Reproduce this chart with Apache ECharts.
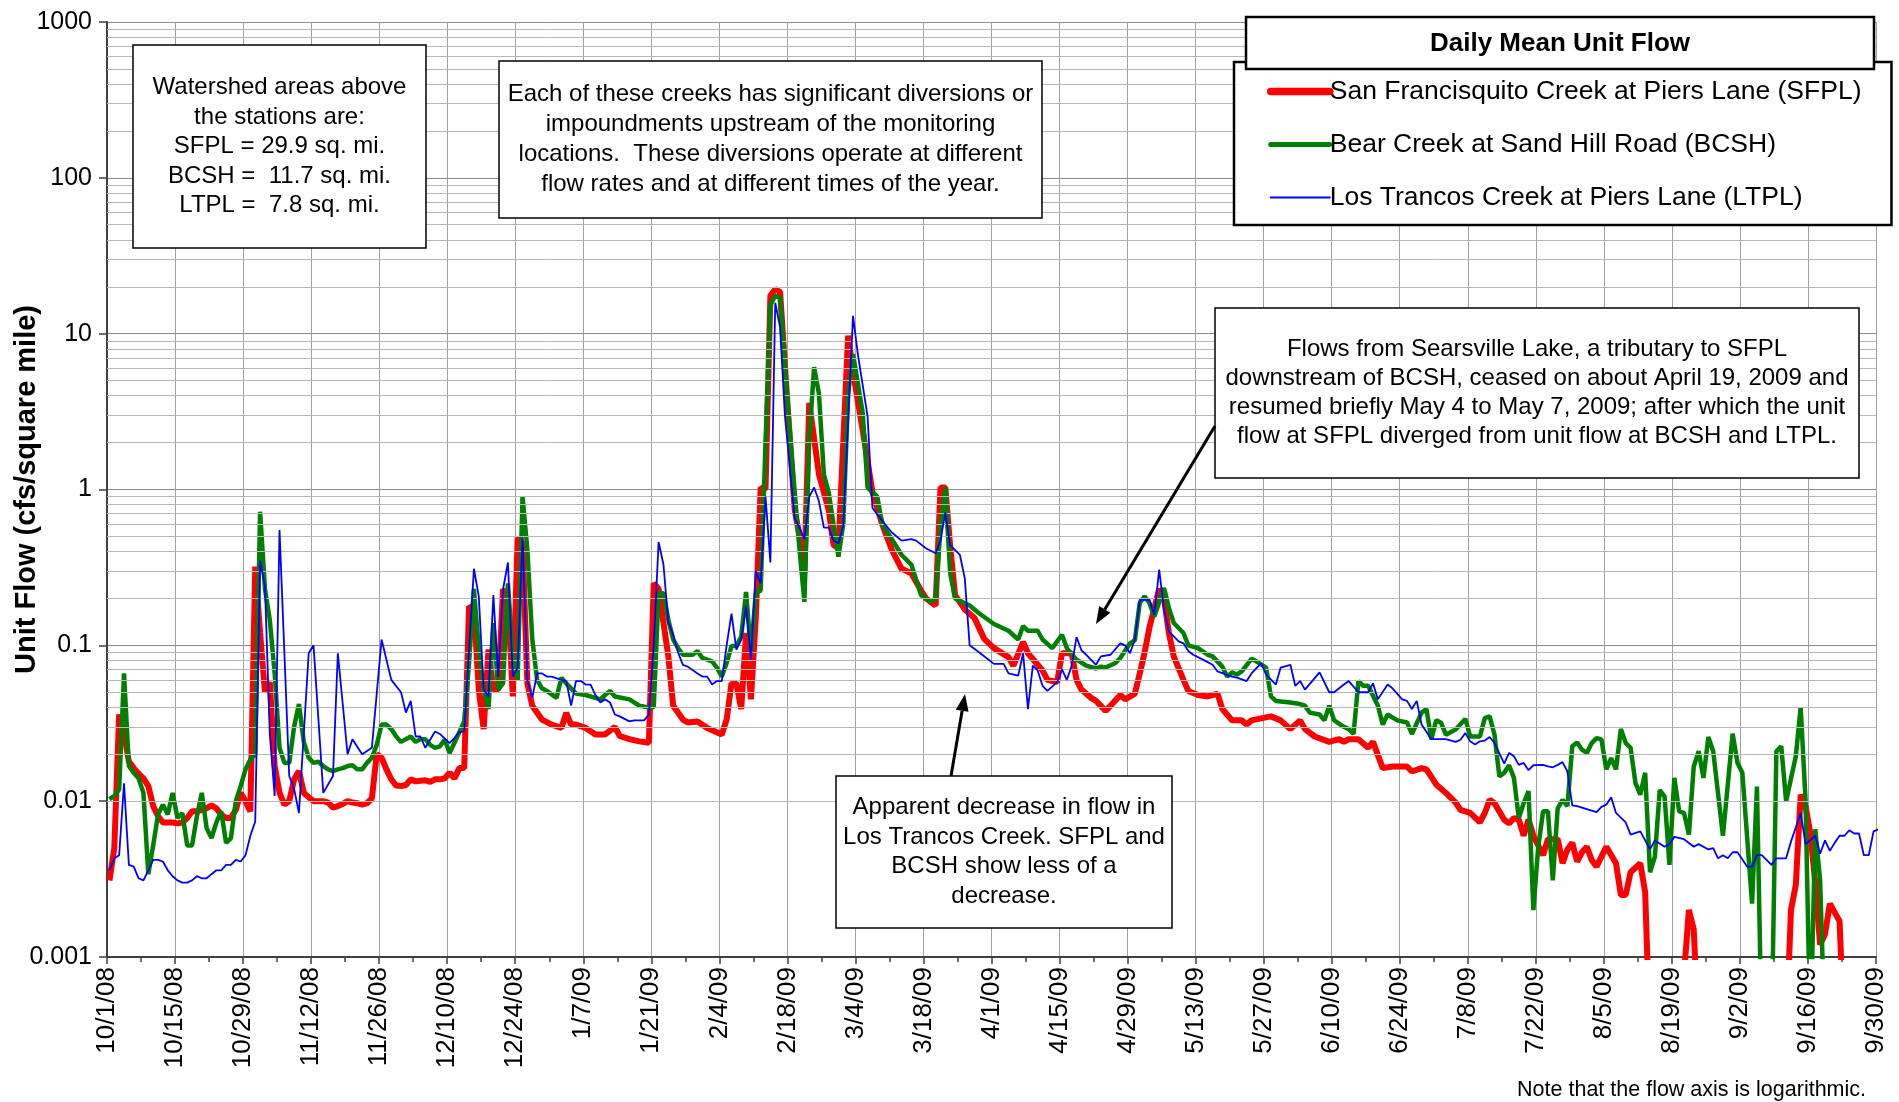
<!DOCTYPE html>
<html>
<head>
<meta charset="utf-8">
<script src="https://cdn.jsdelivr.net/npm/echarts@6/dist/echarts.min.js"></script>
<style>
  html, body { margin: 0; padding: 0; background: #fff; }
  #chart { width: 1899px; height: 1102px; }
</style>
</head>
<body>
<div id="chart"></div>
<script>
// days counted from 10/1/08, daily mean unit flow (cfs / sq. mi.); 0 = below the axis
var sfpl = [[0,0.0031],[1,0.005],[2,0.036],[3,0.0275],[4,0.018],[5,0.0163],[6,0.015],[7,0.014],[8,0.0125],[9,0.0093],[10,0.008],[11,0.0073],[12,0.0073],[13,0.0073],[14,0.0072],[15,0.0073],[16,0.0078],[17,0.0086],[18,0.0086],[19,0.0088],[20,0.009],[21,0.0094],[22,0.009],[23,0.0082],[24,0.0078],[25,0.0078],[26,0.0088],[27,0.0113],[28,0.01],[29,0.0086],[30,0.32],[31,0.12],[32,0.05],[33,0.058],[34,0.0168],[35,0.0113],[36,0.0095],[37,0.01],[38,0.0138],[39,0.0156],[40,0.0113],[41,0.0106],[42,0.01],[43,0.01],[44,0.01],[45,0.0098],[46,0.0091],[47,0.0093],[48,0.0096],[49,0.01],[50,0.0098],[51,0.0097],[52,0.0095],[53,0.0097],[54,0.0104],[55,0.02],[56,0.019],[57,0.016],[58,0.0138],[59,0.0126],[60,0.0125],[61,0.0127],[62,0.0138],[63,0.0134],[64,0.0135],[65,0.0136],[66,0.0133],[67,0.0138],[68,0.0138],[69,0.014],[70,0.0152],[71,0.014],[72,0.0163],[73,0.0163],[74,0.178],[75,0.17],[76,0.052],[77,0.029],[78,0.094],[79,0.052],[80,0.052],[81,0.23],[82,0.19],[83,0.047],[84,0.49],[85,0.45],[86,0.057],[87,0.041],[89,0.0334],[91,0.031],[93,0.0295],[94,0.0368],[95,0.031],[96,0.031],[98,0.0295],[100,0.0268],[102,0.0268],[104,0.03],[105,0.0262],[107,0.025],[109,0.0242],[111,0.0237],[112,0.25],[113,0.23],[115,0.085],[116,0.041],[118,0.0334],[119,0.032],[121,0.0325],[123,0.0295],[126,0.0268],[127,0.0334],[128,0.057],[129,0.057],[130,0.039],[131,0.12],[132,0.045],[133,0.15],[134,1.03],[135,1.0],[136,17.5],[137,19.3],[138,18.5],[140,2.1],[141,0.74],[142,0.5],[143,0.29],[144,3.6],[146,1.25],[148,0.74],[149,0.44],[150,0.42],[152,9.7],[153,5.7],[155,2.4],[157,0.96],[159,0.6],[161,0.41],[163,0.31],[165,0.29],[167,0.225],[168,0.2],[170,0.18],[171,1.03],[172,1.03],[173,0.43],[174,0.21],[176,0.17],[178,0.15],[180,0.11],[182,0.096],[185,0.084],[186,0.074],[188,0.105],[189,0.089],[192,0.069],[193,0.06],[195,0.058],[196,0.089],[198,0.089],[199,0.06],[200,0.052],[202,0.046],[203,0.044],[205,0.038],[206,0.041],[208,0.048],[209,0.045],[211,0.049],[212,0.066],[213,0.09],[214,0.13],[216,0.23],[217,0.2],[218,0.12],[219,0.085],[221,0.06],[222,0.051],[224,0.048],[226,0.047],[228,0.049],[229,0.039],[231,0.033],[233,0.033],[234,0.031],[235,0.033],[239,0.035],[241,0.033],[243,0.029],[245,0.033],[246,0.029],[248,0.026],[251,0.024],[253,0.025],[254,0.024],[255,0.025],[257,0.025],[259,0.022],[260,0.024],[262,0.0163],[264,0.0167],[267,0.0167],[268,0.0155],[270,0.0163],[271,0.016],[273,0.0128],[275,0.0113],[277,0.0098],[278,0.0088],[279,0.0086],[280,0.0084],[282,0.0073],[283,0.0084],[284,0.0102],[285,0.0097],[287,0.0076],[288,0.0072],[289,0.0078],[290,0.0076],[291,0.006],[292,0.0076],[293,0.006],[295,0.0045],[296,0.0057],[298,0.0057],[299,0.004],[300,0.0049],[301,0.0054],[302,0.0041],[303,0.0047],[304,0.0051],[305,0.0042],[306,0.0038],[308,0.0051],[310,0.004],[311,0.0025],[312,0.0025],[313,0.0035],[315,0.004],[316,0.0026],[317,0],[323,0],[325,0.002],[326,0.0015],[327,0],[345,0],[346,0.002],[347,0.0029],[348,0.011],[349,0.0093],[350,0.0062],[351,0.003],[352,0.0012],[353,0.0014],[354,0.0022],[356,0.0017],[357,0],[364,0]];

var bcsh = [[0,0.0103],[1,0.0108],[2,0.0119],[3,0.066],[4,0.0168],[5,0.0152],[6,0.014],[7,0.0113],[8,0.0034],[9,0.0052],[10,0.0082],[11,0.0095],[12,0.0082],[13,0.0113],[14,0.0078],[15,0.0084],[16,0.0052],[17,0.0052],[18,0.008],[19,0.0113],[20,0.0067],[21,0.0058],[22,0.0073],[23,0.0086],[24,0.0054],[25,0.0058],[26,0.01],[27,0.0125],[28,0.016],[29,0.0185],[30,0.02],[31,0.72],[32,0.23],[33,0.145],[34,0.066],[35,0.022],[36,0.0176],[37,0.0176],[38,0.03],[39,0.042],[40,0.024],[41,0.019],[42,0.0176],[43,0.0179],[44,0.0168],[45,0.016],[46,0.0156],[47,0.016],[48,0.0163],[49,0.0168],[50,0.017],[51,0.016],[52,0.016],[53,0.0176],[54,0.019],[55,0.023],[56,0.031],[57,0.031],[58,0.029],[59,0.026],[60,0.024],[61,0.025],[62,0.026],[63,0.024],[64,0.025],[65,0.025],[66,0.023],[67,0.022],[68,0.0225],[69,0.0248],[70,0.0204],[71,0.0237],[73,0.0325],[74,0.077],[75,0.23],[76,0.094],[77,0.052],[78,0.039],[79,0.139],[80,0.052],[81,0.057],[82,0.25],[83,0.085],[84,0.06],[85,0.9],[86,0.41],[87,0.11],[88,0.06],[89,0.053],[90,0.051],[92,0.046],[93,0.062],[94,0.057],[96,0.049],[98,0.048],[101,0.045],[102,0.048],[103,0.051],[104,0.047],[107,0.045],[109,0.041],[111,0.04],[112,0.04],[113,0.216],[114,0.216],[115,0.146],[116,0.109],[117,0.096],[118,0.087],[120,0.087],[121,0.092],[122,0.083],[124,0.079],[125,0.072],[126,0.063],[127,0.077],[128,0.099],[129,0.099],[130,0.114],[131,0.22],[132,0.09],[133,0.216],[134,0.225],[135,1.98],[136,15.3],[137,17.5],[138,17],[139,6.1],[141,0.96],[142,0.41],[143,0.19],[144,2.1],[145,6.1],[146,4.1],[147,1.25],[148,0.96],[150,0.37],[151,0.6],[152,4.1],[153,7.4],[155,3.1],[156,1.03],[158,0.9],[159,0.6],[161,0.48],[163,0.38],[165,0.33],[167,0.21],[169,0.19],[170,0.2],[171,0.57],[172,1.03],[173,0.29],[174,0.2],[177,0.18],[179,0.16],[182,0.137],[185,0.124],[187,0.109],[188,0.133],[189,0.124],[191,0.124],[192,0.109],[194,0.096],[196,0.117],[197,0.096],[199,0.081],[201,0.074],[203,0.071],[204,0.073],[205,0.072],[207,0.077],[208,0.083],[210,0.103],[211,0.108],[212,0.187],[213,0.206],[214,0.187],[215,0.153],[217,0.233],[218,0.174],[219,0.139],[221,0.12],[222,0.1],[224,0.096],[226,0.087],[227,0.085],[229,0.073],[230,0.063],[231,0.067],[232,0.065],[233,0.068],[235,0.082],[236,0.079],[238,0.072],[239,0.047],[240,0.044],[243,0.043],[245,0.042],[246,0.041],[247,0.037],[249,0.036],[250,0.033],[251,0.041],[252,0.033],[254,0.03],[255,0.029],[256,0.027],[257,0.059],[258,0.055],[259,0.055],[261,0.041],[262,0.031],[263,0.036],[265,0.033],[267,0.032],[268,0.027],[270,0.037],[271,0.039],[272,0.025],[273,0.033],[274,0.0318],[275,0.0267],[277,0.0288],[279,0.0337],[280,0.026],[282,0.026],[283,0.0341],[284,0.035],[285,0.0267],[286,0.0144],[287,0.0152],[288,0.017],[289,0.0141],[290,0.0078],[291,0.0097],[292,0.0116],[293,0.002],[294,0.0051],[295,0.0086],[296,0.0086],[297,0.0031],[298,0.009],[299,0.0102],[300,0.0093],[301,0.0225],[302,0.0238],[303,0.0214],[304,0.0204],[305,0.0236],[306,0.0254],[307,0.0249],[308,0.016],[309,0.0189],[310,0.016],[311,0.029],[312,0.0236],[313,0.022],[314,0.0131],[315,0.011],[316,0.0152],[317,0.0035],[318,0.0044],[319,0.0118],[320,0.0107],[321,0.0039],[322,0.0141],[323,0.0086],[324,0.0084],[325,0.0061],[326,0.0167],[327,0.0209],[328,0.0141],[329,0.0258],[330,0.0209],[332,0.006],[334,0.0271],[335,0.0176],[336,0.0152],[338,0.0022],[339,0.0124],[340,0],[342,0],[343,0.0209],[344,0.0225],[345,0.01],[347,0.0194],[348,0.04],[349,0.0102],[350,0],[351,0.0066],[352,0.0031],[353,0],[364,0]];

var ltpl = [[0,0.0036],[1,0.0043],[2,0.0045],[3,0.013],[4,0.0039],[5,0.0038],[6,0.0032],[7,0.0031],[8,0.0036],[9,0.0042],[10,0.0042],[11,0.0041],[12,0.0036],[13,0.0033],[14,0.0031],[15,0.003],[16,0.003],[17,0.0031],[18,0.0033],[19,0.0032],[20,0.0032],[21,0.0034],[22,0.0036],[23,0.0036],[24,0.0039],[25,0.0039],[26,0.0042],[27,0.0041],[28,0.0045],[29,0.006],[30,0.0074],[31,0.35],[32,0.24],[33,0.027],[34,0.0108],[35,0.55],[37,0.0145],[38,0.012],[39,0.0084],[41,0.089],[42,0.1],[44,0.0113],[46,0.0145],[47,0.089],[49,0.02],[50,0.025],[52,0.02],[54,0.022],[56,0.109],[58,0.06],[60,0.05],[61,0.037],[62,0.044],[63,0.026],[64,0.026],[65,0.022],[67,0.028],[68,0.027],[70,0.0236],[71,0.0255],[72,0.0277],[73,0.028],[74,0.094],[75,0.31],[76,0.206],[77,0.052],[78,0.047],[79,0.21],[80,0.063],[81,0.23],[82,0.34],[83,0.063],[84,0.072],[85,0.49],[86,0.06],[87,0.046],[88,0.066],[89,0.066],[90,0.063],[91,0.063],[93,0.06],[94,0.059],[95,0.041],[96,0.059],[97,0.059],[98,0.056],[99,0.056],[100,0.048],[101,0.043],[102,0.045],[103,0.043],[104,0.036],[105,0.035],[107,0.0325],[108,0.033],[110,0.033],[111,0.036],[112,0.1],[113,0.46],[114,0.33],[115,0.14],[116,0.117],[117,0.09],[118,0.075],[119,0.073],[121,0.066],[122,0.063],[123,0.063],[124,0.056],[125,0.059],[126,0.059],[127,0.1],[128,0.16],[129,0.094],[130,0.109],[131,0.18],[132,0.081],[133,0.3],[134,0.25],[135,0.9],[136,0.34],[137,15.8],[138,11],[139,2.95],[141,0.65],[142,0.57],[143,0.48],[144,0.9],[145,1.03],[146,0.84],[147,0.57],[148,0.57],[149,0.47],[150,0.45],[151,0.59],[153,13],[154,7.4],[156,2.95],[157,0.76],[159,0.63],[161,0.53],[163,0.47],[165,0.48],[166,0.47],[168,0.42],[170,0.39],[171,0.47],[172,0.71],[173,0.44],[175,0.38],[176,0.27],[177,0.1],[179,0.09],[182,0.076],[184,0.076],[185,0.066],[187,0.064],[188,0.089],[189,0.039],[190,0.074],[191,0.069],[192,0.055],[193,0.051],[195,0.058],[196,0.07],[197,0.06],[198,0.074],[199,0.113],[200,0.093],[201,0.087],[203,0.075],[204,0.085],[206,0.087],[208,0.103],[209,0.1],[210,0.089],[211,0.109],[212,0.196],[214,0.196],[215,0.157],[216,0.306],[217,0.17],[218,0.123],[220,0.106],[221,0.103],[222,0.092],[223,0.087],[225,0.081],[227,0.075],[228,0.068],[231,0.063],[232,0.062],[234,0.059],[235,0.066],[237,0.077],[238,0.065],[240,0.056],[241,0.072],[243,0.075],[244,0.055],[245,0.059],[246,0.052],[249,0.067],[251,0.05],[252,0.05],[254,0.056],[255,0.059],[257,0.05],[259,0.05],[260,0.057],[261,0.045],[263,0.056],[264,0.053],[266,0.045],[267,0.044],[268,0.039],[269,0.044],[270,0.031],[272,0.025],[275,0.025],[277,0.024],[278,0.0248],[279,0.0274],[280,0.0242],[281,0.0231],[282,0.0242],[283,0.0245],[284,0.0258],[285,0.0236],[287,0.0174],[288,0.0204],[289,0.0194],[290,0.0171],[291,0.0176],[292,0.0158],[293,0.017],[295,0.0171],[296,0.0167],[297,0.0165],[298,0.0171],[299,0.0178],[300,0.0155],[301,0.0094],[302,0.0093],[304,0.0089],[306,0.0085],[307,0.0092],[308,0.0095],[309,0.0106],[310,0.0084],[312,0.0073],[313,0.0061],[315,0.0064],[317,0.0049],[318,0.0056],[320,0.0051],[321,0.0053],[322,0.0059],[324,0.0057],[326,0.0051],[327,0.0053],[329,0.0049],[330,0.005],[331,0.0043],[332,0.0045],[333,0.0043],[334,0.0047],[335,0.0047],[337,0.0038],[338,0.0038],[339,0.0045],[340,0.0045],[342,0.0039],[343,0.0043],[345,0.0043],[346,0.0055],[348,0.0084],[349,0.0053],[351,0.006],[352,0.0046],[353,0.0056],[354,0.0048],[355,0.0054],[356,0.006],[357,0.006],[358,0.0065],[359,0.0062],[360,0.0062],[361,0.0045],[362,0.0045],[363,0.0064],[364,0.0066]];

var seriesNames = [
    'San Francisquito Creek at Piers Lane (SFPL)',
    'Bear Creek at Sand Hill Road (BCSH)',
    'Los Trancos Creek at Piers Lane (LTPL)'
];
var seriesColors = ['#ff0000', '#008000', '#0000ff'];
var yTickLabels = ['0.001', '0.01', '0.1', '1', '10', '100', '1000'];

var FONT = '"Liberation Sans", Arial, sans-serif';
var noFlow = 0.0003;   // zero / missing flow is drawn below the log axis and clipped

// daily mean is centred on the day
function toPoints(rows) {
    return rows.map(function (r) {
        return [r[0] + 0.5, r[1] > 0 ? r[1] : noFlow];
    });
}

function dayLabel(v) {
    var d = new Date(2008, 9, 1 + Math.round(v));
    return (d.getMonth() + 1) + '/' + d.getDate() + '/' + String(d.getFullYear()).slice(2);
}

// minor log grid lines 2..9 in each decade
var minorLines = [];
for (var e = -3; e < 3; e++) {
    for (var m = 2; m <= 9; m++) {
        minorLines.push({ yAxis: m * Math.pow(10, e) });
    }
}

function noteBox(x, y, w, h, lines, fontSize, lineHeight) {
    return [
        { type: 'rect', z: 100, shape: { x: x, y: y, width: w, height: h },
          style: { fill: '#fff', stroke: '#000', lineWidth: 1.5 } },
        { type: 'text', z: 101, x: x + w / 2, y: y + h / 2,
          style: { text: lines.join('\n'), align: 'center', verticalAlign: 'middle',
                   fontSize: fontSize, fontFamily: FONT, lineHeight: lineHeight, fill: '#000' } }
    ];
}

function arrow(x1, y1, x2, y2) {
    var a = Math.atan2(y2 - y1, x2 - x1), L = 17, W = 6.5;
    var bx = x2 - L * Math.cos(a), by = y2 - L * Math.sin(a);
    return [
        { type: 'line', z: 100, shape: { x1: x1, y1: y1, x2: bx, y2: by },
          style: { stroke: '#000', lineWidth: 3 } },
        { type: 'polygon', z: 100,
          shape: { points: [[x2, y2], [bx + W * Math.sin(a), by - W * Math.cos(a)], [bx - W * Math.sin(a), by + W * Math.cos(a)]] },
          style: { fill: '#000' } }
    ];
}

var graphics = [].concat(
    noteBox(133, 45, 293, 203, ['Watershed areas above', 'the stations are:', 'SFPL = 29.9 sq. mi.', 'BCSH =  11.7 sq. mi.', 'LTPL =  7.8 sq. mi.'], 24, 29.5),
    noteBox(499, 61, 543, 157, ['Each of these creeks has significant diversions or', 'impoundments upstream of the monitoring', 'locations.  These diversions operate at different', 'flow rates and at different times of the year.'], 24, 30),
    noteBox(1215, 308, 644, 170, ['Flows from Searsville Lake, a tributary to SFPL', 'downstream of BCSH, ceased on about April 19, 2009 and', 'resumed briefly May 4 to May 7, 2009; after which the unit', 'flow at SFPL diverged from unit flow at BCSH and LTPL.'], 24, 29),
    noteBox(836, 776, 336, 152, ['Apparent decrease in flow in', 'Los Trancos Creek. SFPL and', 'BCSH show less of a', 'decrease.'], 24, 29.5),
    arrow(1215, 426, 1096, 624),
    arrow(951, 776, 965, 694),
    [
        { type: 'rect', z: 110, shape: { x: 1246, y: 17, width: 628, height: 52 },
          style: { fill: '#fff', stroke: '#000', lineWidth: 2.5 } },
        { type: 'text', z: 111, x: 1560, y: 44,
          style: { text: 'Daily Mean Unit Flow', align: 'center', verticalAlign: 'middle',
                   fontSize: 26, fontWeight: 'bold', fontFamily: FONT, fill: '#000' } },
        { type: 'text', z: 101, x: 1866, y: 1090,
          style: { text: 'Note that the flow axis is logarithmic.', align: 'right', verticalAlign: 'middle',
                   fontSize: 21.5, fontFamily: FONT, fill: '#000' } }
    ]
);

var legendWidths = [7.5, 5, 2];

var chart = echarts.init(document.getElementById('chart'));

var option = {
    animation: false,
    backgroundColor: '#fff',
    grid: { left: 107, right: 23, top: 22, bottom: 145, containLabel: false, outerBoundsMode: 'none' },
    legend: {
        data: seriesNames.map(function (n, i) {
            return { name: n, lineStyle: { width: legendWidths[i], color: seriesColors[i], cap: 'round' } };
        }),
        orient: 'vertical',
        left: 1234,
        top: 62,
        padding: [16, 30, 14, 33],
        itemWidth: 59,
        itemHeight: 20,
        itemGap: 26,
        backgroundColor: '#fff',
        borderColor: '#000',
        borderWidth: 2.5,
        selectedMode: false,
        itemStyle: { opacity: 0 },
        z: 50,
        textStyle: { fontSize: 26.5, fontFamily: FONT, color: '#000', padding: [0, 0, 0, -5] }
    },
    xAxis: {
        type: 'value',
        min: 0,
        max: 364,
        interval: 14,
        axisLine: { lineStyle: { color: '#404040', width: 2 } },
        axisTick: { length: 7, lineStyle: { color: '#404040', width: 1.5 } },
        minorTick: { show: true, splitNumber: 2, length: 5, lineStyle: { color: '#404040', width: 1.5 } },
        splitLine: { show: true, lineStyle: { color: '#a0a0a0', width: 1 } },
        axisLabel: { rotate: 90, formatter: dayLabel, fontSize: 26, fontFamily: FONT, color: '#000', margin: 10 }
    },
    yAxis: {
        type: 'log',
        logBase: 10,
        min: 0.001,
        max: 1000,
        interval: 1,
        name: 'Unit Flow (cfs/square mile)',
        nameLocation: 'middle',
        nameGap: 66,
        nameMoveOverlap: false,
        nameTextStyle: { fontSize: 29, fontWeight: 'bold', fontFamily: FONT, color: '#000' },
        axisLine: { show: true, lineStyle: { color: '#404040', width: 2 } },
        axisTick: { show: true, length: 8, lineStyle: { color: '#404040', width: 1.5 } },
        splitLine: { show: true, lineStyle: { color: '#8c8c8c', width: 1 } },
        axisLabel: {
            fontSize: 25, fontFamily: FONT, color: '#000', margin: 15,
            formatter: function (v) {
                return yTickLabels[Math.round(Math.log10(v)) + 3];
            }
        }
    },
    series: [
        {
            type: 'line',
            data: [],
            silent: true,
            z: 1,
            markLine: {
                silent: true,
                symbol: 'none',
                animation: false,
                label: { show: false },
                lineStyle: { color: '#b8b8b8', width: 1, type: 'solid' },
                emphasis: { disabled: true },
                data: minorLines
            }
        },
        {
            name: seriesNames[0],
            type: 'line',
            data: toPoints(sfpl),
            symbol: 'none',
            clip: true,
            z: 3,
            itemStyle: { color: seriesColors[0] },
            lineStyle: { color: seriesColors[0], width: 6 }
        },
        {
            name: seriesNames[1],
            type: 'line',
            data: toPoints(bcsh),
            symbol: 'none',
            clip: true,
            z: 4,
            itemStyle: { color: seriesColors[1] },
            lineStyle: { color: seriesColors[1], width: 4.5 }
        },
        {
            name: seriesNames[2],
            type: 'line',
            data: toPoints(ltpl),
            symbol: 'none',
            clip: true,
            z: 5,
            itemStyle: { color: seriesColors[2] },
            lineStyle: { color: seriesColors[2], width: 1.8 }
        }
    ],
    graphic: graphics
};

chart.setOption(option);
</script>
</body>
</html>
